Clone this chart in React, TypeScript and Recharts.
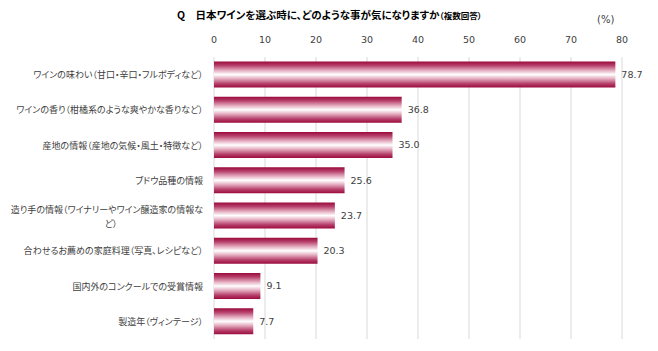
import React from 'react';
import { BarChart, Bar, XAxis, YAxis, CartesianGrid, LabelList } from 'recharts';

const categories = [
  'ワインの味わい（甘口・辛口・フルボディなど）',
  'ワインの香り（柑橘系のような爽やかな香りなど）',
  '産地の情報（産地の気候・風土・特徴など）',
  'ブドウ品種の情報',
  '造り手の情報（ワイナリーやワイン醸造家の情報な\nど）',
  '合わせるお薦めの家庭料理（写真、レシピなど）',
  '国内外のコンクールでの受賞情報',
  '製造年（ヴィンテージ）',
];
const values = [78.7, 36.8, 35.0, 25.6, 23.7, 20.3, 9.1, 7.7];
const xTicks = [0, 10, 20, 30, 40, 50, 60, 70, 80];

const data = categories.map((name, i) => ({ name, value: values[i] }));

const JP = '"Noto Sans CJK JP", sans-serif';
const NUM = '"DejaVu Sans", Verdana, sans-serif';
const TEXT = '#404040';
const palt = { fontFeatureSettings: '"palt"' } as React.CSSProperties;

function CategoryTick(props: any) {
  const { y, payload } = props;
  const lines: string[] = String(payload.value).split('\n');
  if (lines.length === 1) {
    return (
      <text x={203} y={y} dy={3.5} textAnchor="end" fontSize={9} fill={TEXT} fontFamily={JP} style={palt}>
        {lines[0]}
      </text>
    );
  }
  return (
    <g>
      <text x={203} y={y} dy={-3} textAnchor="end" fontSize={9} fill={TEXT} fontFamily={JP} style={palt}>
        {lines[0]}
      </text>
      <text x={111} y={y} dy={11} textAnchor="middle" fontSize={9} fill={TEXT} fontFamily={JP} style={palt}>
        {lines[1]}
      </text>
    </g>
  );
}

export default function App() {
  return (
    <div style={{ position: 'absolute', left: 0, top: 0, width: 658, height: 351, background: '#fff' }}>
      <BarChart
        width={658}
        height={351}
        data={data}
        layout="vertical"
        margin={{ top: 27, right: 36, left: 0, bottom: 12 }}
        barCategoryGap="13%"
      >
        <defs>
          <linearGradient id="wineGrad" x1="0" y1="0" x2="0" y2="1">
            <stop offset="0%" stopColor="#9b0a3c" />
            <stop offset="15%" stopColor="#b6406a" />
            <stop offset="35%" stopColor="#e6b2c4" />
            <stop offset="50%" stopColor="#ffffff" />
            <stop offset="65%" stopColor="#e6b2c4" />
            <stop offset="85%" stopColor="#b6406a" />
            <stop offset="100%" stopColor="#9b0a3c" />
          </linearGradient>
        </defs>
        <text x={177} y={19} fontSize={10.5} fontWeight="bold" fill="#000" fontFamily={JP} style={palt}>
          Q　日本ワインを選ぶ時に、どのような事が気になりますか
          <tspan fontSize={8.5}>（複数回答）</tspan>
        </text>
        <text x={597} y={23} fontSize={10} fill={TEXT} fontFamily={NUM}>(%)</text>
        <CartesianGrid horizontal={false} vertical stroke="#d9d9d9" />
        <XAxis
          type="number"
          orientation="top"
          domain={[0, 80]}
          ticks={xTicks}
          height={30}
          axisLine={false}
          tickLine={false}
          tickMargin={8}
          tick={{ fontSize: 9.5, fill: TEXT, fontFamily: NUM }}
        />
        <YAxis
          type="category"
          dataKey="name"
          width={214}
          axisLine={false}
          tickLine={false}
          interval={0}
          tick={<CategoryTick />}
        />
        <Bar dataKey="value" fill="url(#wineGrad)" isAnimationActive={false}>
          <LabelList
            dataKey="value"
            position="right"
            offset={6}
            formatter={(v: any) => Number(v).toFixed(1)}
            style={{ fontSize: 9.5, fill: TEXT, fontFamily: NUM }}
          />
        </Bar>
      </BarChart>
    </div>
  );
}
